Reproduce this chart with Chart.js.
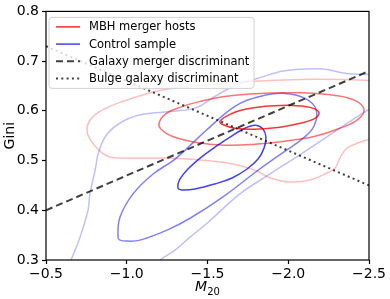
<!DOCTYPE html>
<html>
<head>
<meta charset="utf-8">
<script src="https://cdn.jsdelivr.net/npm/chart.js@4.4.0/dist/chart.umd.min.js"></script>
<style>
  html, body { margin: 0; padding: 0; background: #fff; }
</style>
</head>
<body>
<canvas id="gm20" width="390" height="299"></canvas>
<script>
// contour levels (M20, Gini)
const mbhInnerM20 = [-1.856, -2.011, -2.135, -2.190, -2.166, -2.073, -1.949, -1.794, -1.670, -1.590, -1.577, -1.639, -1.732];
const mbhInnerGini = [0.609, 0.611, 0.607, 0.597, 0.585, 0.575, 0.567, 0.563, 0.565, 0.573, 0.579, 0.593, 0.603];

const mbhMidM20 = [-2.073, -2.290, -2.413, -2.469, -2.432, -2.320, -2.166, -1.980, -1.794, -1.608, -1.423, -1.280, -1.212, -1.200, -1.237, -1.330, -1.454, -1.608, -1.825];
const mbhMidGini = [0.637, 0.631, 0.621, 0.603, 0.583, 0.565, 0.549, 0.539, 0.533, 0.531, 0.537, 0.549, 0.563, 0.575, 0.593, 0.607, 0.619, 0.629, 0.635];

const mbhOuterM20 = [-2.599, -2.500, -2.320, -2.073, -1.763, -1.454, -1.206, -0.958, -0.834, -0.772, -0.754, -0.772, -0.834, -0.896, -1.020, -1.249, -1.454, -1.658, -1.807, -1.887, -2.011, -2.135, -2.240, -2.290, -2.320, -2.364, -2.500, -2.599];
const mbhOuterGini = [0.659, 0.661, 0.663, 0.663, 0.659, 0.651, 0.641, 0.617, 0.599, 0.581, 0.561, 0.543, 0.519, 0.507, 0.505, 0.505, 0.501, 0.493, 0.479, 0.465, 0.457, 0.461, 0.475, 0.485, 0.505, 0.525, 0.543, 0.553];

const ctrlInnerM20 = [-1.546, -1.639, -1.720, -1.794, -1.844, -1.862, -1.850, -1.813, -1.745, -1.652, -1.546, -1.423, -1.342, -1.317, -1.330, -1.379, -1.454];
const ctrlInnerGini = [0.527, 0.547, 0.563, 0.571, 0.563, 0.547, 0.525, 0.503, 0.483, 0.465, 0.453, 0.443, 0.441, 0.445, 0.463, 0.483, 0.505];

const ctrlMidM20 = [-1.485, -1.670, -1.825, -1.980, -2.104, -2.172, -2.159, -2.085, -1.980, -1.807, -1.596, -1.392, -1.249, -1.082, -1.002, -0.958, -0.946, -0.958, -1.039, -1.163, -1.299];
const ctrlMidGini = [0.559, 0.609, 0.629, 0.635, 0.625, 0.603, 0.569, 0.543, 0.519, 0.479, 0.427, 0.384, 0.360, 0.340, 0.338, 0.340, 0.346, 0.386, 0.433, 0.473, 0.503];

const ctrlOuterM20 = [-0.624, -0.655, -0.711, -0.760, -0.772, -0.803, -0.828, -0.878, -0.977, -1.101, -1.286, -1.435, -1.546, -1.670, -1.807, -1.968, -2.104, -2.215, -2.364, -2.500, -2.599, -2.599, -2.500, -2.320, -2.135, -2.011, -1.868, -1.701, -1.497, -1.392, -1.299, -1.206, -1.144];
const ctrlOuterGini = [0.276, 0.300, 0.346, 0.400, 0.433, 0.479, 0.519, 0.553, 0.579, 0.593, 0.599, 0.607, 0.629, 0.651, 0.665, 0.680, 0.684, 0.684, 0.675, 0.673, 0.671, 0.619, 0.603, 0.565, 0.525, 0.499, 0.469, 0.433, 0.374, 0.346, 0.320, 0.300, 0.284];

// discriminant lines (end points)
const mergerM20 = [-0.5, -2.5];
const mergerGini = [0.40, 0.68];
const bulgeM20 = [-0.5, -2.5];
const bulgeGini = [0.73, 0.45];

const xTicks = [-0.5, -1.0, -1.5, -2.0, -2.5];
const yTicks = [0.3, 0.4, 0.5, 0.6, 0.7, 0.8];
const legendLabels = ['MBH merger hosts', 'Control sample', 'Galaxy merger discriminant', 'Bulge galaxy discriminant'];

const FONT = "'DejaVu Sans', sans-serif";

function toPoints(xs, ys, closed) {
    const pts = xs.map((x, i) => ({ x: x, y: ys[i] }));
    if (closed) pts.push({ x: xs[0], y: ys[0] });
    return pts;
}

function contour(xs, ys, closed, color) {
    return {
        data: toPoints(xs, ys, closed),
        showLine: true,
        borderColor: color,
        borderWidth: 1.5,
        pointRadius: 0,
        tension: 0.4,
        fill: false
    };
}

function minus(v) {
    return v.toFixed(1).replace('-', '\u2212');
}

// frame, axis titles and matplotlib style legend
const decorations = {
    id: 'decorations',
    afterDraw(chart) {
        const ctx = chart.ctx;
        const a = chart.chartArea;
        ctx.save();
        ctx.strokeStyle = '#000';
        ctx.lineWidth = 1.2;
        ctx.strokeRect(a.left, a.top, a.right - a.left, a.bottom - a.top);

        // legend box
        const bx = a.left + 3, by = a.top + 6, bw = 205, bh = 71;
        ctx.fillStyle = 'rgba(255,255,255,0.8)';
        ctx.strokeStyle = '#d2d2d2';
        ctx.lineWidth = 1;
        ctx.beginPath();
        ctx.roundRect(bx, by, bw, bh, 3);
        ctx.fill();
        ctx.stroke();

        const handles = [
            { color: 'rgba(255,0,0,0.85)', dash: [], width: 1.5 },
            { color: 'rgba(0,0,255,0.75)', dash: [], width: 1.5 },
            { color: 'rgba(0,0,0,0.75)', dash: [7, 4], width: 2 },
            { color: 'rgba(0,0,0,0.75)', dash: [2, 3.3], width: 2 }
        ];
        ctx.font = '11.5px ' + FONT;
        ctx.textBaseline = 'middle';
        ctx.textAlign = 'left';
        legendLabels.forEach((label, i) => {
            const ry = by + 9.5 + i * 17.2;
            const h = handles[i];
            ctx.beginPath();
            ctx.setLineDash(h.dash);
            ctx.strokeStyle = h.color;
            ctx.lineWidth = h.width;
            ctx.moveTo(bx + 7, ry);
            ctx.lineTo(bx + 31, ry);
            ctx.stroke();
            ctx.setLineDash([]);
            ctx.fillStyle = '#000';
            ctx.fillText(label, bx + 40, ry + 0.5);
        });

        // axis titles
        ctx.fillStyle = '#000';
        ctx.save();
        ctx.translate(10, (a.top + a.bottom) / 2);
        ctx.rotate(-Math.PI / 2);
        ctx.textAlign = 'center';
        ctx.textBaseline = 'middle';
        ctx.font = '14px ' + FONT;
        ctx.fillText('Gini', 0, 0);
        ctx.restore();

        const cx = (a.left + a.right) / 2;
        ctx.textAlign = 'left';
        ctx.textBaseline = 'alphabetic';
        ctx.font = 'italic 14px ' + FONT;
        const mW = ctx.measureText('M').width;
        ctx.font = '10px ' + FONT;
        const sW = ctx.measureText('20').width;
        const x0 = cx - (mW + sW) / 2;
        ctx.font = 'italic 14px ' + FONT;
        ctx.fillText('M', x0, 291);
        ctx.font = '10px ' + FONT;
        ctx.fillText('20', x0 + mW, 295);
        ctx.restore();
    }
};

const ctx = document.getElementById('gm20').getContext('2d');
new Chart(ctx, {
    type: 'scatter',
    data: {
        datasets: [
            {
                data: toPoints(mergerM20, mergerGini, false),
                showLine: true, borderColor: 'rgba(0,0,0,0.75)', borderWidth: 2,
                borderDash: [7, 4], pointRadius: 0
            },
            {
                data: toPoints(bulgeM20, bulgeGini, false),
                showLine: true, borderColor: 'rgba(0,0,0,0.75)', borderWidth: 2,
                borderDash: [2, 3.3], pointRadius: 0
            },
            contour(mbhInnerM20, mbhInnerGini, true, 'rgba(255,0,0,0.8)'),
            contour(ctrlInnerM20, ctrlInnerGini, true, 'rgba(0,0,255,0.75)'),
            contour(mbhMidM20, mbhMidGini, true, 'rgba(255,0,0,0.55)'),
            contour(ctrlMidM20, ctrlMidGini, true, 'rgba(0,0,255,0.5)'),
            contour(mbhOuterM20, mbhOuterGini, false, 'rgba(255,0,0,0.25)'),
            contour(ctrlOuterM20, ctrlOuterGini, false, 'rgba(0,0,255,0.25)')
        ]
    },
    options: {
        responsive: false,
        animation: false,
        events: [],
        layout: { padding: { top: 9, right: 21, left: 0, bottom: 0 } },
        plugins: {
            legend: { display: false },
            tooltip: { enabled: false }
        },
        scales: {
            x: {
                type: 'linear',
                reverse: true,
                min: -2.5,
                max: -0.5,
                afterFit(scale) { scale.height = 39; },
                afterBuildTicks(scale) { scale.ticks = xTicks.map(v => ({ value: v })); },
                border: { display: false },
                grid: { drawOnChartArea: false, drawTicks: true, tickLength: 4, color: '#000', tickWidth: 1.2 },
                ticks: {
                    padding: 2,
                    color: '#000',
                    font: { family: FONT, size: 14 },
                    callback: v => minus(v)
                }
            },
            y: {
                type: 'linear',
                min: 0.3,
                max: 0.8,
                afterFit(scale) { scale.width = 46; },
                afterBuildTicks(scale) { scale.ticks = yTicks.map(v => ({ value: v })); },
                border: { display: false },
                grid: { drawOnChartArea: false, drawTicks: true, tickLength: 4, color: '#000', tickWidth: 1.2 },
                ticks: {
                    padding: 3,
                    color: '#000',
                    font: { family: FONT, size: 14 },
                    callback: v => minus(v)
                }
            }
        }
    },
    plugins: [decorations]
});
</script>
</body>
</html>
